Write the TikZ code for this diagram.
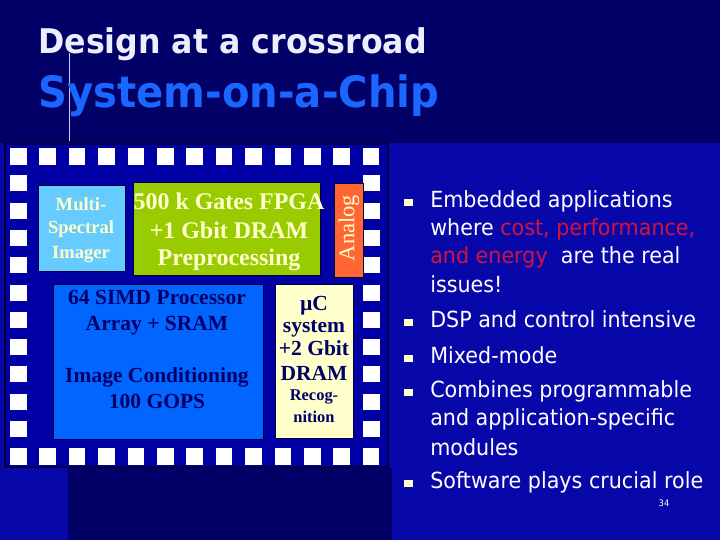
\documentclass[tikz,border=0pt]{standalone}
\usepackage{fontspec}
\setmainfont{Liberation Serif}
\newfontfamily\tahoma[FakeStretch=0.93]{DejaVu Sans}
\definecolor{slidenavy}{RGB}{0,0,102}
\definecolor{slideblue}{RGB}{8,8,170}
\definecolor{chipblue}{RGB}{0,0,165}
\definecolor{chipedge}{RGB}{0,0,60}
\definecolor{imgblue}{RGB}{102,204,255}
\definecolor{fpgagreen}{RGB}{153,204,0}
\definecolor{analogred}{RGB}{255,102,51}
\definecolor{simdblue}{RGB}{0,102,255}
\definecolor{cream}{RGB}{255,255,204}
\definecolor{inknavy}{RGB}{0,0,102}
\definecolor{hotred}{RGB}{210,20,60}
\definecolor{subblue}{RGB}{26,102,255}

\begin{document}
\begin{tikzpicture}[x=0.025cm,y=-0.025cm,
  pad/.style={fill=white},
  blk/.style={draw=chipedge,line width=0.7pt},
  chiptxt/.style={inner sep=0pt,anchor=base,font=\bfseries\fontsize{15.3pt}{18pt}\selectfont},
  bul/.style={inner sep=0pt,anchor=base west,text=white,font=\tahoma\fontsize{15.8pt}{18pt}\selectfont},
  dot/.style={fill=cream}]
\useasboundingbox (0,0) rectangle (720,540);
% background
\fill[slidenavy] (0,0) rectangle (720,540);
\fill[slideblue] (0,143) rectangle (720,540);
\fill[slidenavy] (68,468) rectangle (392,540);
\draw[white!80!blue,line width=0.6pt] (69.5,53) -- (69.5,141);

% titles
\node[anchor=base west,inner sep=0pt,text=white!93!blue,font=\tahoma\bfseries\fontsize{24.2pt}{28pt}\selectfont] (title) at (38,53) {Design at a crossroad};
\node[anchor=base west,inner sep=0pt,text=subblue,font=\tahoma\bfseries\fontsize{30.7pt}{36pt}\selectfont] (subtitle) at (38,107) {System-on-a-Chip};

% chip with pads
\filldraw[fill=chipblue,draw=chipedge,line width=2pt] (5,144) rectangle (388,467);
\foreach \i in {0,...,12} {
  \fill[pad] (10+29.4*\i,148) rectangle ++(16.5,17);
  \fill[pad] (10+29.4*\i,448) rectangle ++(16.5,17);
}
\foreach \j in {1,...,10} {
  \fill[pad] (10,148+27.3*\j) rectangle ++(16.5,16);
  \fill[pad] (363,148+27.3*\j) rectangle ++(16.5,16);
}

% blocks
\filldraw[blk,fill=imgblue] (38,185) rectangle (125,271);
\filldraw[blk,fill=fpgagreen] (133,182) rectangle (320,275);
\filldraw[blk,fill=analogred] (334,183) rectangle (363,277);
\filldraw[blk,fill=simdblue] (53,284) rectangle (263,439);
\filldraw[blk,fill=cream] (275,284) rectangle (353,438);

\foreach \y/\t [count=\k] in {210/Multi-,233/Spectral,258/Imager}
  \node[chiptxt,text=cream,font=\bfseries\fontsize{13.2pt}{16pt}\selectfont] (img\k) at (81,\y) {\t};
\foreach \y/\t [count=\k] in {209/500 k Gates FPGA,238/+1 Gbit DRAM,265/Preprocessing}
  \node[chiptxt,text=cream,font=\bfseries\fontsize{17pt}{20pt}\selectfont] (fpga\k) at (229,\y) {\t};
\node[rotate=90,inner sep=0pt,text=cream,font=\fontsize{16pt}{18pt}\selectfont] (analog) at (349,228) {Analog};
\foreach \y/\t [count=\k] in {304/64 SIMD Processor,330/Array + SRAM,382/Image Conditioning,408/100 GOPS}
  \node[chiptxt,text=inknavy] (simd\k) at (157,\y) {\t};
\foreach \y/\t [count=\k] in {310/µC,332/system,355/+2 Gbit,380/DRAM}
  \node[chiptxt,text=inknavy] (uc\k) at (314,\y) {\t};
\foreach \y/\t [count=\k] in {400/Recog-,422/nition}
  \node[chiptxt,text=inknavy,font=\bfseries\fontsize{11.7pt}{14pt}\selectfont] (rec\k) at (314,\y) {\t};

% bullet list
\foreach \y in {202,322,358,392,483}
  \fill[dot] (404,\y-3.5) rectangle ++(8.5,7.5);
\node[bul] (b1) at (430,207) {Embedded applications};
\node[bul] (b2) at (430,235) {where \textcolor{hotred}{cost, performance,}};
\node[bul] (b3) at (430,263) {\textcolor{hotred}{and energy}\ \ are the real};
\node[bul] (b4) at (430,292) {issues!};
\node[bul] (b5) at (430,327) {DSP and control intensive};
\node[bul] (b6) at (430,363) {Mixed-mode};
\node[bul] (b7) at (430,397) {Combines programmable};
\node[bul] (b8) at (430,425) {and application-specific};
\node[bul] (b9) at (430,455) {modules};
\node[bul] (b10) at (430,488) {Software plays crucial role};
\node[text=white,inner sep=0pt,font=\tahoma\fontsize{6.4pt}{8pt}\selectfont] (pageno) at (664,503) {34};
\end{tikzpicture}
\end{document}
